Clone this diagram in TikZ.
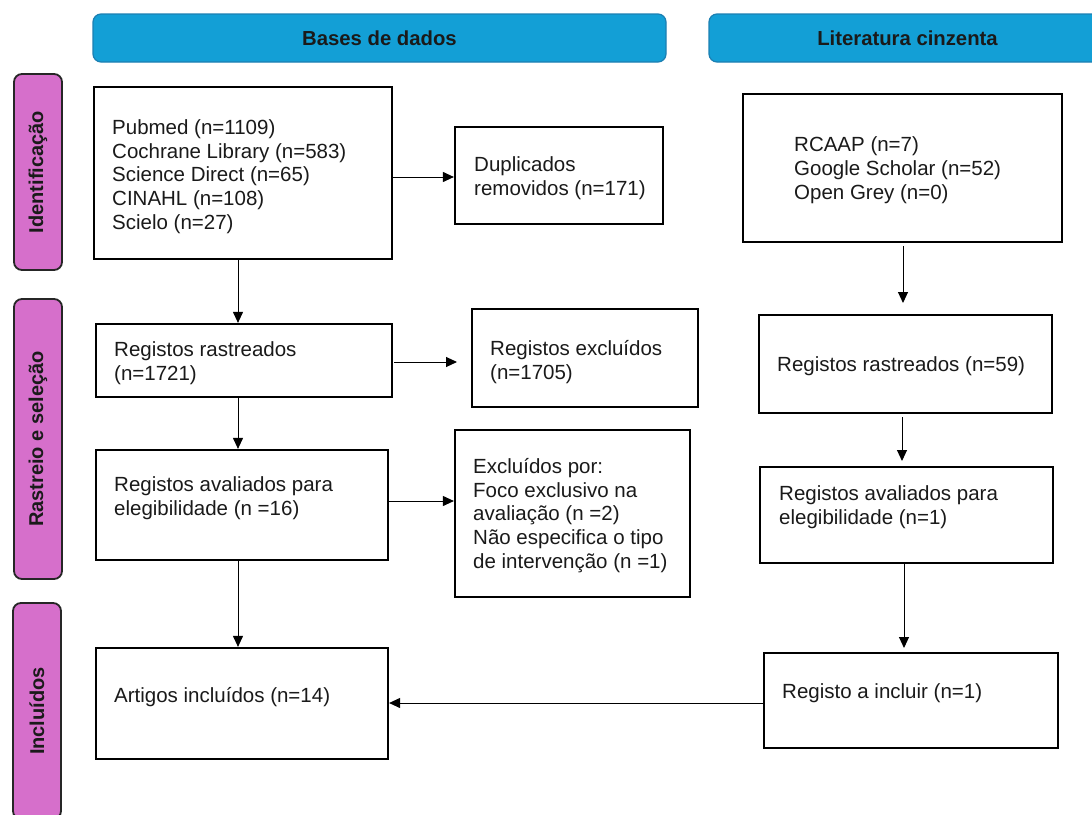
\documentclass[tikz,border=0pt]{standalone}
\usepackage{fontspec}
\setmainfont{Liberation Sans}
\usetikzlibrary{arrows.meta}
\definecolor{hblue}{HTML}{139FD6}
\definecolor{hblueline}{HTML}{1C7FB2}
\definecolor{spink}{HTML}{D66FCB}
\definecolor{txtc}{HTML}{1A1A1A}
\tikzset{
  hdr/.style={rectangle, rounded corners=8pt, fill=hblue, draw=hblueline, line width=1.2pt,
    font=\fontsize{20.3}{23}\selectfont\bfseries, text=txtc, inner sep=0pt},
  side/.style={rectangle, rounded corners=8pt, fill=spink, draw=black!85, line width=1.8pt,
    font=\fontsize{20}{23}\selectfont\bfseries, text=txtc, rotate=90, inner sep=0pt},
  box/.style={rectangle, draw=black, line width=2.2pt, inner sep=0pt, fill=white},
  txt/.style={align=left, inner sep=0pt, anchor=west, text=txtc,
    font=\fontsize{20.5}{23.8}\selectfont},
  arr/.style={-{Triangle[length=11pt,width=10pt]}, line width=1pt, black},
}
\begin{document}
\begin{tikzpicture}[x=1pt,y=-1pt]
\useasboundingbox (0,0) rectangle (1092,814);
\begin{scope}
\clip (0,0) rectangle (1092,814);
% headers
\node[hdr, minimum width=573, minimum height=48] (h1) at (379.5,38) {Bases de dados};
\node[hdr, minimum width=397, minimum height=48] (h2) at (907.5,38) {Literatura cinzenta};
% side labels
\node[side, minimum width=196, minimum height=48] (s1) at (38,172) {Identificação};
\node[side, minimum width=280, minimum height=48] (s2) at (38,439) {Rastreio e seleção};
\node[side, minimum width=216, minimum height=48] (s3) at (37,711) {Incluídos};
\end{scope}

% left column boxes
\node[box, minimum width=298, minimum height=172] (b1) at (243,173) {};
\node[txt] (b1t) at (112,176.5) {Pubmed (n=1109)\\Cochrane Library (n=583)\\Science Direct (n=65)\\CINAHL (n=108)\\Scielo (n=27)};

\node[box, minimum width=208, minimum height=97] (dup) at (559,175.5) {};
\node[txt] (dupt) at (474,178) {Duplicados\\removidos (n=171)};

\node[box, minimum width=296, minimum height=73] (b2) at (244,360.5) {};
\node[txt] (b2t) at (114,363.5) {Registos rastreados\\(n=1721)};

\node[box, minimum width=226, minimum height=98] (exc) at (585,358) {};
\node[txt] (exct) at (490,362) {Registos excluídos\\(n=1705)};

\node[box, minimum width=292, minimum height=110] (b3) at (242,505) {};
\node[txt] (b3t) at (114,498) {Registos avaliados para\\elegibilidade (n =16)};

\node[box, minimum width=235, minimum height=167] (exc2) at (572.5,513.5) {};
\node[txt] (exc2t) at (473,515.5) {Excluídos por:\\Foco exclusivo na\\avaliação (n =2)\\Não especifica o tipo\\de intervenção (n =1)};

\node[box, minimum width=292, minimum height=111] (b4) at (242,703.5) {};
\node[txt] (b4t) at (114,697.5) {Artigos incluídos (n=14)};

% right column boxes
\node[box, minimum width=319, minimum height=148] (r1) at (902.5,168) {};
\node[txt] (r1t) at (794,170) {RCAAP (n=7)\\Google Scholar (n=52)\\Open Grey (n=0)};

\node[box, minimum width=293, minimum height=98] (r2) at (905.5,364) {};
\node[txt] (r2t) at (777,366) {Registos rastreados (n=59)};

\node[box, minimum width=293, minimum height=96] (r3) at (906.5,515) {};
\node[txt] (r3t) at (779,507.5) {Registos avaliados para\\elegibilidade (n=1)};

\node[box, minimum width=294, minimum height=95] (r4) at (911,700.5) {};
\node[txt] (r4t) at (782,693.5) {Registo a incluir (n=1)};

% helper coordinates
\coordinate (a1s) at (238,259);
\coordinate (a1e) at (238,324);
\coordinate (a2s) at (238,397);
\coordinate (a2e) at (238,450);
\coordinate (a3s) at (238,560);
\coordinate (a3e) at (238,648);
\coordinate (d1s) at (392,177);
\coordinate (d1e) at (455,177);
\coordinate (d2s) at (394,362);
\coordinate (d2e) at (457,362);
\coordinate (d3s) at (388,501);
\coordinate (d3e) at (455,501);
\coordinate (r1s) at (903,246);
\coordinate (r1e) at (903,303);
\coordinate (r2s) at (902,417);
\coordinate (r2e) at (902,461);
\coordinate (r3s) at (904,563);
\coordinate (r3e) at (904,648);
\coordinate (j1s) at (764,703);
\coordinate (j1e) at (388,703);

% connectors
\draw[arr] (b1.south -| a1s) -- (b2.north -| a1e);
\draw[arr] (b2.south -| a2s) -- (b3.north -| a2e);
\draw[arr] (b3.south -| a3s) -- (b4.north -| a3e);
\draw[arr] (b1.east |- d1s) -- (dup.west |- d1e);
\draw[arr] (d2s) -- (d2e);
\draw[arr] (b3.east |- d3s) -- (exc2.west |- d3e);
\draw[arr] (r1s) -- (r1e);
\draw[arr] (r2s) -- (r2e);
\draw[arr] (r3.south -| r3s) -- (r3e);
\draw[arr] (r4.west |- j1s) -- (b4.east |- j1e);
\end{tikzpicture}
\end{document}
